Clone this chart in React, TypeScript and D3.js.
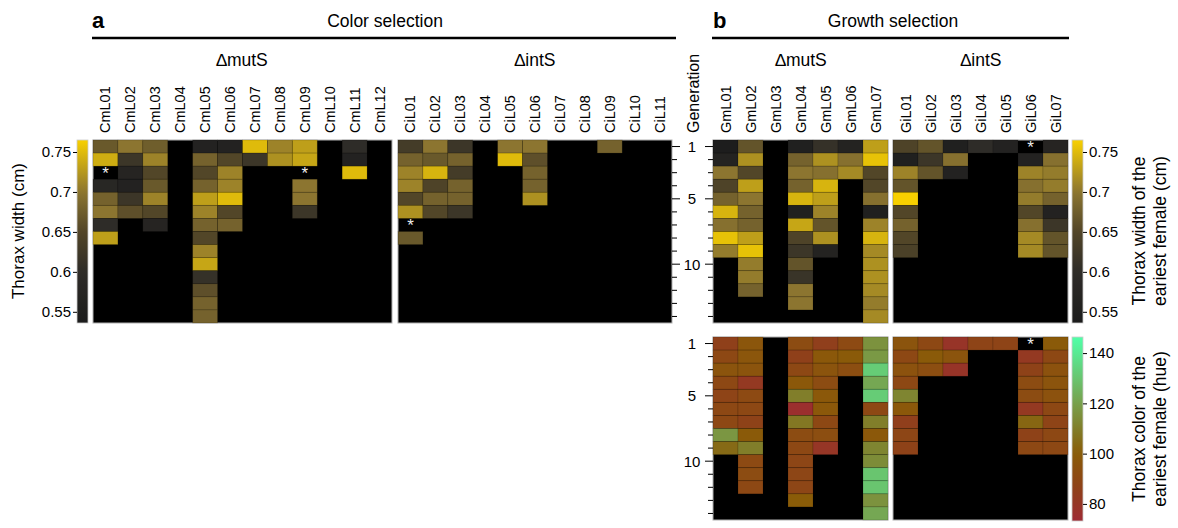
import React, { useEffect, useRef } from "react";
import * as d3 from "d3";

// generations shown on the y axis
const generations = d3.range(1, 15);
const genTickLabels = [1, 5, 10];

// lines
const colorMutLines = ["CmL01", "CmL02", "CmL03", "CmL04", "CmL05", "CmL06", "CmL07", "CmL08", "CmL09", "CmL10", "CmL11", "CmL12"];
const colorIntLines = ["CiL01", "CiL02", "CiL03", "CiL04", "CiL05", "CiL06", "CiL07", "CiL08", "CiL09", "CiL10", "CiL11"];
const growthMutLines = ["GmL01", "GmL02", "GmL03", "GmL04", "GmL05", "GmL06", "GmL07"];
const growthIntLines = ["GiL01", "GiL02", "GiL03", "GiL04", "GiL05", "GiL06", "GiL07"];

// thorax width (cm) per line, one value per generation (null = no value)
const colorMutWidth = [
  [0.67, 0.74, null, 0.58, 0.68, 0.70, 0.60, 0.73],
  [0.70, 0.62, 0.57, 0.56, 0.62, 0.66],
  [0.675, 0.71, 0.65, 0.67, 0.71, 0.65, 0.57],
  [],
  [0.56, 0.68, 0.65, 0.68, 0.73, 0.71, 0.68, 0.65, 0.71, 0.735, 0.61, 0.66, 0.68, 0.68],
  [0.56, 0.65, 0.71, 0.71, 0.75, 0.65, 0.68],
  [0.75, 0.62],
  [0.71, 0.72],
  [0.73, 0.735, null, 0.70, 0.70, 0.62],
  [],
  [0.60, 0.56, 0.75],
  [],
];
const colorIntWidth = [
  [0.63, 0.68, 0.71, 0.71, 0.65, 0.72, null, 0.67],
  [0.70, 0.67, 0.745, 0.645, 0.68, 0.65],
  [0.62, 0.68, 0.63, 0.68, 0.68, 0.62],
  [],
  [0.70, 0.75],
  [0.70, 0.66, 0.68, 0.68, 0.72],
  [],
  [],
  [0.68],
  [],
  [],
];
const growthMutWidth = [
  [0.54, 0.565, 0.70, 0.645, 0.68, 0.745, 0.695, 0.755, 0.705],
  [0.665, 0.72, 0.65, 0.73, 0.70, 0.68, 0.68, 0.73, 0.755, 0.705, 0.705, 0.68],
  [],
  [0.55, 0.68, 0.70, 0.68, 0.745, 0.55, 0.735, 0.645, 0.62, 0.665, 0.615, 0.70, 0.70],
  [0.61, 0.72, 0.695, 0.745, 0.73, 0.71, 0.665, 0.72, 0.565],
  [0.565, 0.695, 0.715],
  [0.73, 0.755, 0.65, 0.65, 0.695, 0.55, 0.71, 0.745, 0.715, 0.72, 0.72, 0.715, 0.705, 0.715],
];
const growthIntWidth = [
  [0.645, 0.55, 0.71, 0.665, 0.765, 0.65, 0.68, 0.65, 0.64],
  [0.665, 0.62, 0.665],
  [0.55, 0.695, 0.56],
  [0.60],
  [0.56],
  [null, 0.56, 0.71, 0.695, 0.705, 0.65, 0.695, 0.715, 0.715],
  [0.57, 0.695, 0.705, 0.705, 0.68, 0.56, 0.62, 0.665, 0.665],
];

// thorax colour (hue)
const growthMutHue = [
  [86, 90, 96, 90, 88, 90, 90, 117, 104],
  [97, 97, 96, 82, 91, 90, 87, 99, 110, 91, 92, 90],
  [],
  [92, 86, 90, 98, 110, 76, 108, 92, 90, 89, 89, 89, 100],
  [85, 98, 96, 92, 98, 98, 90, 93, 80],
  [91, 99, 93],
  [116, 118, 132, 122, 132, 90, 110, 98, 112, 114, 130, 130, 116, 122],
];
const growthIntHue = [
  [96, 90, 95, 90, 112, 98, 85, 89, 87],
  [90, 99, 93],
  [79, 96, 79],
  [88],
  [88],
  [null, 82, 87, 92, 92, 82, 103, 87, 90],
  [99, 90, 95, 96, 95, 90, 88, 90, 90],
];

// [line index, generation index] of cells marked with *
const colorMutStars = [[0, 2], [8, 2]];
const colorIntStars = [[0, 6]];
const growthIntStars = [[5, 0]];

const widthTicks = [0.55, 0.6, 0.65, 0.7, 0.75];
const hueTicks = [80, 100, 120, 140];

const FONT = "Liberation Sans, Arial, sans-serif";

const App = () => {
  const ref = useRef<SVGSVGElement | null>(null);

  useEffect(() => {
    const svg = d3.select(ref.current);
    svg.selectAll("*").remove();
    svg.attr("font-family", FONT);

    const widthColor = d3.scaleLinear<string>()
      .domain([0.536, 0.6, 0.65, 0.7, 0.765])
      .range(["#1c1c1c", "#2e2c28", "#524628", "#8c7530", "#f8d000"])
      .clamp(true);
    const hueColor = d3.scaleLinear<string>()
      .domain([73, 87, 100, 120, 146])
      .range(["#9e2a34", "#8e4218", "#8a5c08", "#78a04c", "#50ffa8"])
      .clamp(true);

    const topRows = d3.scaleBand<number>().domain(generations).range([140, 323]);
    const botRows = d3.scaleBand<number>().domain(generations).range([337, 520]);

    const heat = (x0, x1, lines, data, rows, color, stars) => {
      const x = d3.scaleBand<string>().domain(lines).range([x0, x1]);
      const g = svg.append("g");
      g.append("rect").attr("x", x0).attr("y", rows.range()[0])
        .attr("width", x1 - x0).attr("height", rows.range()[1] - rows.range()[0])
        .attr("fill", "#000").attr("stroke", "#b0b0b0").attr("stroke-width", 1);
      const cells = [];
      data.forEach((col, i) => col.forEach((v, j) => {
        if (v != null) cells.push({ line: lines[i], gen: generations[j], v });
      }));
      g.selectAll("rect.cell").data(cells).join("rect")
        .attr("class", "cell")
        .attr("x", d => x(d.line))
        .attr("y", d => rows(d.gen))
        .attr("width", x.bandwidth())
        .attr("height", rows.bandwidth())
        .attr("fill", d => color(d.v))
        .attr("stroke", "rgba(0,0,0,0.18)")
        .attr("stroke-width", 0.8);
      g.selectAll("text.star").data(stars).join("text")
        .attr("class", "star")
        .attr("x", d => x(lines[d[0]]) + x.bandwidth() / 2)
        .attr("y", d => rows(generations[d[1]]) + rows.bandwidth() / 2 + 6)
        .attr("text-anchor", "middle").attr("fill", "#eee")
        .attr("font-size", 17).text("*");
      return x;
    };

    const xColorMut = heat(93, 392, colorMutLines, colorMutWidth, topRows, widthColor, colorMutStars);
    const xColorInt = heat(398, 672, colorIntLines, colorIntWidth, topRows, widthColor, colorIntStars);
    const xGrowthMut = heat(713, 888, growthMutLines, growthMutWidth, topRows, widthColor, []);
    const xGrowthInt = heat(893, 1068, growthIntLines, growthIntWidth, topRows, widthColor, growthIntStars);
    heat(713, 888, growthMutLines, growthMutHue, botRows, hueColor, []);
    heat(893, 1068, growthIntLines, growthIntHue, botRows, hueColor, growthIntStars);

    // column labels
    [[xColorMut, colorMutLines], [xColorInt, colorIntLines], [xGrowthMut, growthMutLines], [xGrowthInt, growthIntLines]]
      .forEach(([x, lines]) => {
        svg.append("g").selectAll("text").data(lines).join("text")
          .attr("transform", d => `translate(${x(d) + x.bandwidth() / 2 + 5},133) rotate(-90)`)
          .attr("font-size", 14.5).attr("text-anchor", "start")
          .text(d => d);
      });

    // generation ticks
    const genTicks = (rows, xTick, dir) => {
      const g = svg.append("g").attr("stroke", "#000").attr("stroke-width", 1);
      g.selectAll("line").data(generations).join("line")
        .attr("x1", xTick)
        .attr("x2", d => xTick + dir * (genTickLabels.includes(d) ? 8 : 5))
        .attr("y1", d => rows(d) + rows.bandwidth() / 2)
        .attr("y2", d => rows(d) + rows.bandwidth() / 2);
    };
    genTicks(topRows, 672, 1);
    genTicks(topRows, 713, -1);
    genTicks(botRows, 713, -1);
    [topRows, botRows].forEach(rows => {
      svg.append("g").selectAll("text").data(genTickLabels).join("text")
        .attr("x", 692).attr("y", d => rows(d) + rows.bandwidth() / 2 + 5.5)
        .attr("text-anchor", "middle").attr("font-size", 15)
        .text(d => d);
    });
    svg.append("text")
      .attr("transform", "translate(699,133) rotate(-90)")
      .attr("font-size", 16).text("Generation");

    // colour bars
    const colorbar = (id, x0, y0, y1, scale, color, ticks, fmt, side) => {
      const [lo, hi] = scale.domain();
      const grad = svg.append("defs").append("linearGradient")
        .attr("id", id).attr("x1", 0).attr("x2", 0).attr("y1", 1).attr("y2", 0);
      d3.range(0, 1.0001, 0.05).forEach(t => {
        grad.append("stop").attr("offset", t).attr("stop-color", color(lo + t * (hi - lo)));
      });
      svg.append("rect").attr("x", x0).attr("y", y0).attr("width", 11).attr("height", y1 - y0)
        .attr("fill", `url(#${id})`).attr("stroke", "#ccc").attr("stroke-width", 0.8);
      const axis = (side === "left" ? d3.axisLeft(scale) : d3.axisRight(scale))
        .tickValues(ticks).tickSize(4).tickPadding(2).tickFormat(fmt);
      const g = svg.append("g")
        .attr("transform", `translate(${side === "left" ? x0 : x0 + 11},0)`)
        .call(axis);
      g.select(".domain").remove();
      g.selectAll("text").attr("font-size", 15).attr("font-family", FONT).attr("fill", "#000");
    };
    const wLeft = d3.scaleLinear().domain([0.536, 0.765]).range([323, 140]);
    colorbar("wbarL", 77, 140, 323, wLeft, widthColor, widthTicks, d3.format(""), "left");
    colorbar("wbarR", 1072, 140, 323, wLeft, widthColor, widthTicks, d3.format(""), "right");
    const hueScale = d3.scaleLinear().domain([73.2, 146.4]).range([521, 337]);
    colorbar("hbar", 1072, 337, 521, hueScale, hueColor, hueTicks, d3.format("d"), "right");

    // titles
    svg.append("text").attr("transform", "translate(24,231) rotate(-90)")
      .attr("text-anchor", "middle").attr("font-size", 17).text("Thorax width (cm)");
    const twoLine = (x, y, a, b) => {
      const t = svg.append("text").attr("transform", `translate(${x},${y}) rotate(-90)`)
        .attr("text-anchor", "middle").attr("font-size", 17.5);
      t.append("tspan").attr("x", 0).attr("dy", 0).text(a);
      t.append("tspan").attr("x", 0).attr("dy", 21).text(b);
    };
    twoLine(1145, 231, "Thorax width of the", "eariest female (cm)");
    twoLine(1145, 429, "Thorax color of the", "eariest female (hue)");

    svg.append("text").attr("x", 92).attr("y", 28).attr("font-size", 22)
      .attr("font-weight", "bold").text("a");
    svg.append("text").attr("x", 713).attr("y", 28).attr("font-size", 22)
      .attr("font-weight", "bold").text("b");
    svg.append("text").attr("x", 385).attr("y", 27).attr("text-anchor", "middle")
      .attr("font-size", 17.5).text("Color selection");
    svg.append("text").attr("x", 893).attr("y", 27).attr("text-anchor", "middle")
      .attr("font-size", 17.5).text("Growth selection");
    svg.append("line").attr("x1", 92).attr("x2", 676).attr("y1", 38).attr("y2", 38)
      .attr("stroke", "#000").attr("stroke-width", 2.5);
    svg.append("line").attr("x1", 712).attr("x2", 1069).attr("y1", 38).attr("y2", 38)
      .attr("stroke", "#000").attr("stroke-width", 2.5);

    [[242, "\u2206mutS"], [535, "\u2206intS"], [801, "\u2206mutS"], [981, "\u2206intS"]].forEach(([x, s]) => {
      svg.append("text").attr("x", x).attr("y", 66).attr("text-anchor", "middle")
        .attr("font-size", 17.5).text(s);
    });
  }, []);

  return (
    <svg ref={ref} width={1178} height={528}
      style={{ position: "absolute", left: 0, top: 0, background: "#fff" }} />
  );
};

export default App;
